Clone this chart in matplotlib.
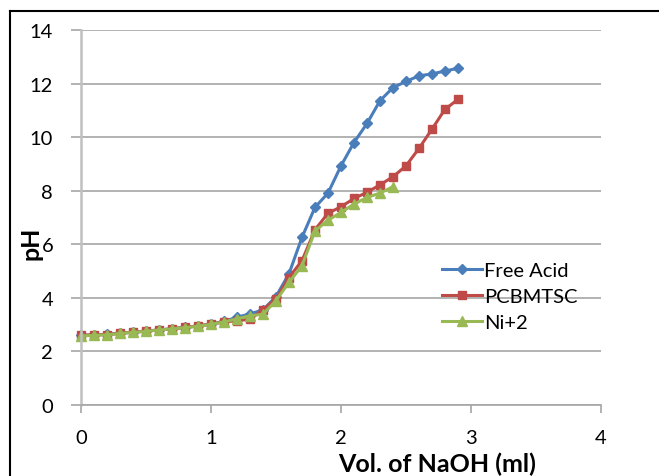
import numpy as np
import matplotlib
matplotlib.use('Agg')
import matplotlib.pyplot as plt
from matplotlib.lines import Line2D

# Volume di NaOH aggiunto (ml)
vol = [0.0, 0.1, 0.2, 0.3, 0.4, 0.5, 0.6, 0.7, 0.8, 0.9,
       1.0, 1.1, 1.2, 1.3, 1.4, 1.5, 1.6, 1.7, 1.8, 1.9,
       2.0, 2.1, 2.2, 2.3, 2.4, 2.5, 2.6, 2.7, 2.8, 2.9]
# pH delle tre titolazioni
free_acid = [2.60, 2.62, 2.64, 2.68, 2.72, 2.76, 2.80, 2.85, 2.90, 2.95,
             3.02, 3.12, 3.28, 3.40, 3.55, 4.05, 4.90, 6.26, 7.38, 7.91,
             8.93, 9.80, 10.51, 11.36, 11.85, 12.08, 12.29, 12.36, 12.47, 12.57]
pcbmtsc = [2.60, 2.62, 2.63, 2.68, 2.72, 2.76, 2.80, 2.84, 2.90, 2.95,
           3.02, 3.10, 3.15, 3.20, 3.56, 3.96, 4.76, 5.39, 6.54, 7.16,
           7.40, 7.71, 7.94, 8.22, 8.52, 8.93, 9.58, 10.30, 11.04, 11.41]
ni2 = [2.58, 2.60, 2.62, 2.67, 2.71, 2.75, 2.80, 2.84, 2.89, 2.94,
       3.01, 3.10, 3.22, 3.33, 3.39, 3.90, 4.58, 5.20, 6.50, 6.90,
       7.19, 7.50, 7.75, 7.91, 8.15]

labels = ['Free Acid', 'PCBMTSC', 'Ni+2']
colors = ['#4A7EBB', '#BE4B48', '#98B954']
markers = ['D', 's', '^']
sizes = [5.5, 6, 6.5]

plt.rcParams['font.family'] = ['Lato', 'DejaVu Sans']

fig = plt.figure(figsize=(6.59, 4.77), dpi=100)
ax = fig.add_axes([81/659, 71/477, 520/659, 375/477])

series = [free_acid, pcbmtsc, ni2]
for y, lab, c, m, s in zip(series, labels, colors, markers, sizes):
    ax.plot(vol[:len(y)], y, color=c, marker=m, markersize=s, lw=2.2,
            label=lab, clip_on=False)

ax.set_xlim(0, 4)
ax.set_ylim(0, 14)
ax.set_xticks(np.arange(0, 5, 1))
ax.set_yticks(np.arange(0, 16, 2))

ax.yaxis.grid(True, color='#a6a6a6', lw=1.2)
ax.set_axisbelow(True)
for sp in ['top', 'right']:
    ax.spines[sp].set_visible(False)
ax.spines['left'].set_color('#c0c0c0')
ax.spines['left'].set_linewidth(1.8)
ax.spines['bottom'].set_color('#a6a6a6')
ax.spines['bottom'].set_linewidth(1.2)
ax.tick_params(axis='y', length=7, width=1.2, color='#a6a6a6', pad=13, labelsize=14.5)
ax.tick_params(axis='x', length=6, width=1.2, color='#a6a6a6', pad=11, labelsize=14.5)

fig.text(437/659, 1 - 464/477, 'Vol. of NaOH (ml)', ha='center', va='center',
         fontsize=18, fontweight='bold')
fig.text(31/659, 1 - 243/477, 'pH', ha='center', va='center', rotation=90,
         fontsize=18, fontweight='bold')

ax.legend(loc='upper left', bbox_to_anchor=(353/520, 1 - 224/375), frameon=False,
          fontsize=14.5, handlelength=2.0, handletextpad=0.1, labelspacing=0.45,
          borderaxespad=0)

# cornice del grafico
fig.add_artist(Line2D([10/659, 10/659], [0, 1 - 12/477], color='black', lw=1.5))
fig.add_artist(Line2D([10/659, 1], [1 - 12/477, 1 - 12/477], color='black', lw=1.5))

fig.savefig('out.png', dpi=100)
